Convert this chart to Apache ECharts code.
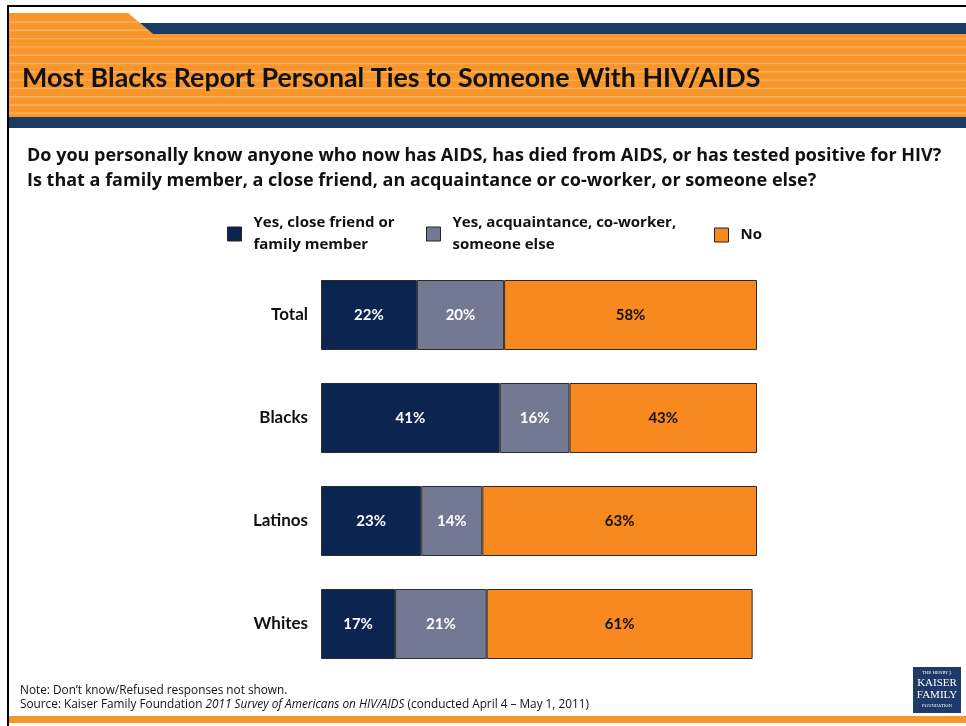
<!DOCTYPE html>
<html>
<head>
<meta charset="utf-8">
<script src="https://cdn.jsdelivr.net/npm/echarts@6/dist/echarts.min.js"></script>
<style>
  html, body { margin: 0; padding: 0; background: #ffffff; }
  #chart { width: 966px; height: 726px; }
</style>
</head>
<body>
<div id="chart"></div>
<script>
// Survey groups and shares (percent) for each response
const categories = ['Total', 'Blacks', 'Latinos', 'Whites'];
const closeFriendOrFamily = [22, 41, 23, 17];
const acquaintanceOrOther = [20, 16, 14, 21];
const noOne = [58, 43, 63, 61];
const seriesNames = [
  'Yes, close friend or\nfamily member',
  'Yes, acquaintance, co-worker,\nsomeone else',
  'No'
];

const NAVY = '#0b2550';
const SLATE = '#737893';
const ORANGE = '#f7891f';
const HEADER_ORANGE = '#f7962b';
const HEADER_STRIPE = '#fab25f';
const HEADER_NAVY = '#1b3a64';
const FONT = 'Lato, "Open Sans", sans-serif';
const WIDE_FONT = '"Open Sans", Lato, sans-serif';

const chart = echarts.init(document.getElementById('chart'), null, { renderer: 'canvas' });

// Decorative header band: orange tab, navy rules, light horizontal stripes
const headerGraphics = [];
headerGraphics.push({
  type: 'polygon', silent: true,
  shape: { points: [[9, 13], [128, 13], [153, 34], [9, 34]] },
  style: { fill: HEADER_ORANGE }
});
headerGraphics.push({
  type: 'rect', silent: true,
  shape: { x: 9, y: 34, width: 957, height: 83 },
  style: { fill: HEADER_ORANGE }
});
const stripeRows = [22, 30.3, 38.6, 46.9, 55.2, 63.5, 71.8, 80.1, 88.4, 96.7, 105, 113.3];
stripeRows.forEach(function (y) {
  const right = y < 34 ? 128 + 25 * (y - 13) / 21 : 966;
  headerGraphics.push({
    type: 'rect', silent: true,
    shape: { x: 9, y: y - 0.7, width: right - 9, height: 1.4 },
    style: { fill: HEADER_STRIPE }
  });
});
headerGraphics.push({
  type: 'polygon', silent: true,
  shape: { points: [[140, 23], [966, 23], [966, 34], [153, 34]] },
  style: { fill: HEADER_NAVY }
});
headerGraphics.push({
  type: 'rect', silent: true,
  shape: { x: 9, y: 117, width: 957, height: 11 },
  style: { fill: HEADER_NAVY }
});
// Page frame
headerGraphics.push({
  type: 'rect', silent: true,
  shape: { x: 7, y: 5, width: 959, height: 2 },
  style: { fill: '#000000' }
});
headerGraphics.push({
  type: 'rect', silent: true,
  shape: { x: 7, y: 5, width: 2, height: 721 },
  style: { fill: '#000000' }
});
// Footer rule
headerGraphics.push({
  type: 'rect', silent: true,
  shape: { x: 9, y: 716, width: 957, height: 7 },
  style: { fill: HEADER_ORANGE }
});
// Foundation logo block
headerGraphics.push({
  type: 'group', left: 913, top: 667, silent: true,
  children: [
    { type: 'rect', shape: { x: 0, y: 0, width: 48, height: 46 }, style: { fill: '#1d3a68' } },
    { type: 'text', style: { x: 24, y: 6, text: 'THE HENRY J.', fill: '#ffffff', font: '4px "DejaVu Serif", serif', align: 'center', verticalAlign: 'middle' } },
    { type: 'text', style: { x: 24, y: 16, text: 'KAISER', fill: '#ffffff', font: '11px "Liberation Serif", serif', align: 'center', verticalAlign: 'middle' } },
    { type: 'text', style: { x: 24, y: 28, text: 'FAMILY', fill: '#ffffff', font: '11px "Liberation Serif", serif', align: 'center', verticalAlign: 'middle' } },
    { type: 'text', style: { x: 24, y: 39, text: 'FOUNDATION', fill: '#ffffff', font: '4px "DejaVu Serif", serif', align: 'center', verticalAlign: 'middle' } }
  ]
});

function barSeries(name, values, color, labelColor) {
  return {
    name: name,
    type: 'bar',
    stack: 'share',
    barWidth: 70,
    data: values,
    itemStyle: { color: color, borderColor: '#2b2b2b', borderWidth: 1 },
    label: {
      show: true,
      position: 'inside',
      formatter: '{c}%',
      color: labelColor,
      fontFamily: FONT,
      fontWeight: 'bold',
      fontSize: 15
    },
    emphasis: { disabled: true }
  };
}

function legendBlock(name, left, top) {
  return {
    data: [name],
    left: left,
    top: top,
    padding: 0,
    orient: 'horizontal',
    itemWidth: 14,
    itemHeight: 14,
    selectedMode: false,
    icon: 'rect',
    itemStyle: { borderColor: '#222222', borderWidth: 1 },
    textStyle: {
      fontFamily: WIDE_FONT,
      fontWeight: 'bold',
      fontSize: 15,
      lineHeight: 22,
      color: '#111111',
      padding: [0, 0, 0, 7]
    }
  };
}

const option = {
  animation: false,
  backgroundColor: '#ffffff',
  title: [
    {
      text: 'Most Blacks Report Personal Ties to Someone With HIV/AIDS',
      left: 22, top: 65, padding: 0,
      textStyle: { fontFamily: FONT, fontWeight: 'bold', fontSize: 26.8, color: '#111111' }
    },
    {
      text: 'Do you personally know anyone who now has AIDS, has died from AIDS, or has tested positive for HIV?\nIs that a family member, a close friend, an acquaintance or co-worker, or someone else?',
      left: 27, top: 143, padding: 0,
      textStyle: { fontFamily: WIDE_FONT, fontWeight: 'bold', fontSize: 18, lineHeight: 25, color: '#111111' }
    },
    {
      text: '{n|Note: Don\u2019t know/Refused responses not shown.}\n{n|Source: Kaiser Family Foundation }{i|2011 Survey of Americans on HIV/AIDS}{n| (conducted April 4 \u2013 May 1, 2011)}',
      left: 20, top: 684, padding: 0,
      textStyle: {
        fontFamily: WIDE_FONT, fontSize: 11.8, fontWeight: 'normal', lineHeight: 13.5, color: '#111111',
        rich: {
          n: { fontFamily: WIDE_FONT, fontSize: 11.8, fontWeight: 'normal', lineHeight: 13.5, color: '#111111' },
          i: { fontFamily: WIDE_FONT, fontSize: 11.8, fontWeight: 'normal', lineHeight: 13.5, fontStyle: 'italic', color: '#111111' }
        }
      }
    }
  ],
  legend: [
    legendBlock(seriesNames[0], 227, 212),
    legendBlock(seriesNames[1], 426, 212),
    legendBlock(seriesNames[2], 714, 224)
  ],
  grid: { left: 321, top: 263.5, width: 436, height: 412, containLabel: false },
  xAxis: {
    type: 'value', min: 0, max: 100, show: false
  },
  yAxis: {
    type: 'category',
    data: categories,
    inverse: true,
    axisLine: { show: false },
    axisTick: { show: false },
    splitLine: { show: false },
    axisLabel: {
      margin: 13,
      fontFamily: FONT,
      fontWeight: 'bold',
      fontSize: 17,
      color: '#111111'
    }
  },
  series: [
    barSeries(seriesNames[0], closeFriendOrFamily, NAVY, '#ffffff'),
    barSeries(seriesNames[1], acquaintanceOrOther, SLATE, '#ffffff'),
    barSeries(seriesNames[2], noOne, ORANGE, '#111111')
  ],
  graphic: headerGraphics
};

chart.setOption(option);
</script>
</body>
</html>
